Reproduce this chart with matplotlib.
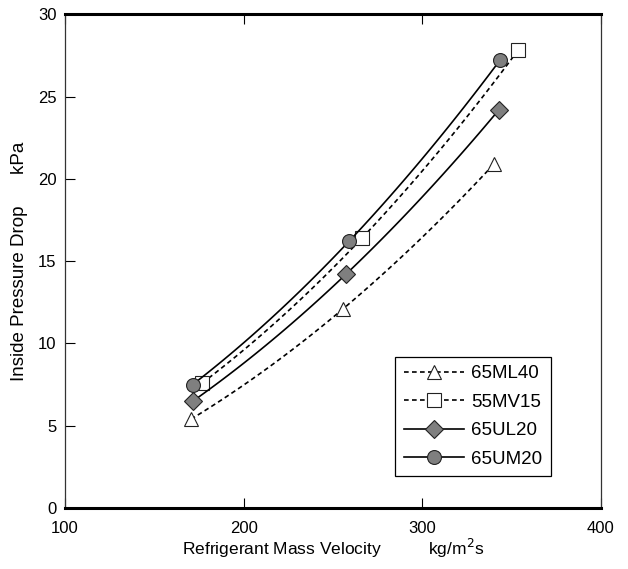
import numpy as np
import matplotlib
matplotlib.use("Agg")
import matplotlib.pyplot as plt

plt.rcParams['font.family'] = ['Liberation Sans', 'DejaVu Sans']

# values
names = ["65ML40", "55MV15", "65UL20", "65UM20"]
mass_velocity = [
    [170.5, 255.6, 340.1],
    [176.8, 266.2, 353.5],
    [171.6, 257.2, 342.9],
    [171.4, 258.9, 343.4],
]
pressure_drop = [
    [5.4, 12.1, 20.9],
    [7.6, 16.4, 27.8],
    [6.5, 14.2, 24.2],
    [7.5, 16.2, 27.2],
]

# look of each series
dash = (0, (2.8, 2.0))
styles = [
    dict(ls=dash, marker="^", mfc="white", ms=10),
    dict(ls=dash, marker="s", mfc="white", ms=10),
    dict(ls="-", marker="D", mfc="#7f7f7f", ms=9.5),
    dict(ls="-", marker="o", mfc="#7f7f7f", ms=10),
]

fig = plt.figure(figsize=(6.28, 5.69), dpi=100)
ax = fig.add_axes([0.1035, 0.107, 0.8535, 0.868])

for x, y, name, st in zip(mass_velocity, pressure_drop, names, styles):
    # smooth curve through the three measured points
    coef = np.polyfit(x, y, 2)
    xs = np.linspace(x[0], x[-1], 60)
    ax.plot(xs, np.polyval(coef, xs), color="black", lw=1.2, ls=st["ls"])
    ax.plot(x, y, ls="none", marker=st["marker"], ms=st["ms"],
            mfc=st["mfc"], mec="#222222", mew=0.8)
    # proxy for the legend
    ax.plot([], [], color="black", lw=1.2, ls=st["ls"], marker=st["marker"],
            ms=st["ms"], mfc=st["mfc"], mec="#222222", mew=0.8, label=name)

ax.set_xlim(100, 400)
ax.set_ylim(0, 30)
ax.set_xticks([100, 200, 300, 400])
ax.set_yticks([0, 5, 10, 15, 20, 25, 30])
ax.tick_params(direction="in", length=7, width=0.8, labelsize=12,
               top=True, right=False, pad=6)
ax.tick_params(axis="x", pad=9)

for side in ["top", "bottom"]:
    ax.spines[side].set_linewidth(2.2)
for side in ["left", "right"]:
    ax.spines[side].set_linewidth(0.9)
    ax.spines[side].set_color("#333333")

ax.set_xlabel("Refrigerant Mass Velocity          kg/m$^2$s", fontsize=12.5, labelpad=1)
ax.set_ylabel("Inside Pressure Drop      kPa", fontsize=13.5, labelpad=7)

leg = ax.legend(loc="lower left", bbox_to_anchor=(0.616, 0.065), borderaxespad=0,
                fontsize=13.5, numpoints=1, handlelength=3.2, labelspacing=0.6,
                handletextpad=0.4, borderpad=0.45, fancybox=False,
                edgecolor="black", framealpha=1)
leg.get_frame().set_linewidth(0.9)

fig.savefig("out.png", dpi=100)
